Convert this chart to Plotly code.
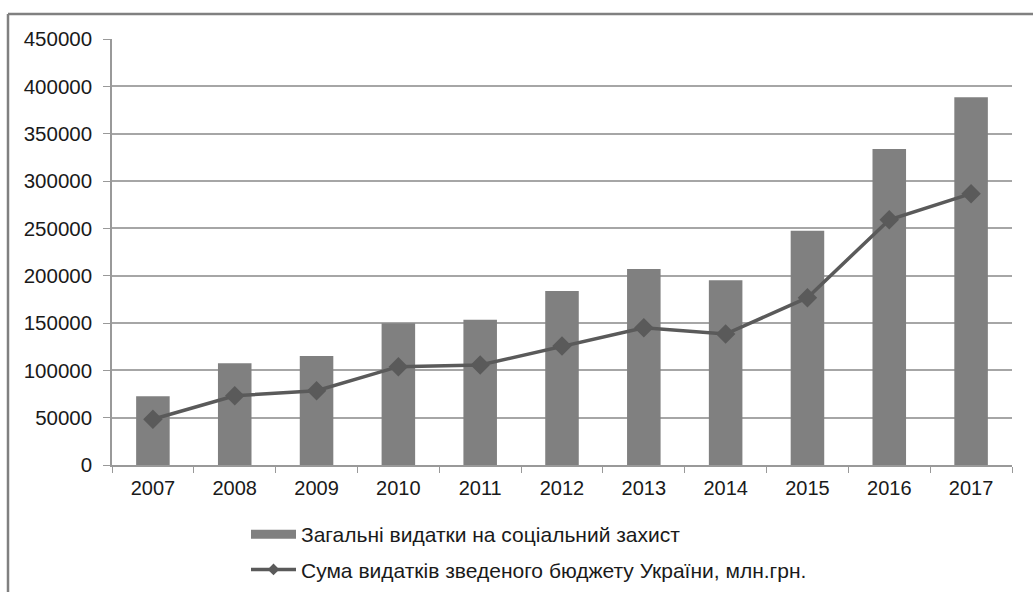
import plotly.graph_objects as go

years = ["2007", "2008", "2009", "2010", "2011", "2012", "2013", "2014", "2015", "2016", "2017"]
social = [72500, 107400, 115100, 149800, 153500, 183800, 207000, 195100, 247500, 333800, 388400]
budget = [48300, 73200, 78500, 103900, 105600, 125700, 145000, 138400, 176700, 259100, 286600]
yticks = [0, 50000, 100000, 150000, 200000, 250000, 300000, 350000, 400000, 450000]

name_bar = "Загальні видатки на соціальний захист"
name_line = "Сума видатків зведеного бюджету України, млн.грн."

BAR_C = "#808080"
LINE_C = "#5a5a5a"

fig = go.Figure()
fig.add_trace(go.Bar(x=years, y=social, name=name_bar, showlegend=False,
                     marker=dict(color=BAR_C, line=dict(width=0)), width=0.41))
fig.add_trace(go.Scatter(x=years, y=budget, name=name_line, mode="lines+markers", showlegend=False,
                         line=dict(color=LINE_C, width=3.5),
                         marker=dict(symbol="diamond", size=15, color=LINE_C)))
# legend entries (legend-only, styled like the original legend keys)
fig.add_trace(go.Scatter(x=[None], y=[None], name=name_bar, mode="lines", legendgroup="a",
                         line=dict(color=BAR_C, width=9)))
fig.add_trace(go.Scatter(x=[None], y=[None], name=name_line, mode="lines+markers", legendgroup="b",
                         line=dict(color=LINE_C, width=3.5),
                         marker=dict(symbol="diamond", size=9, color=LINE_C)))

W, H = 1033, 592
L, R, T, B = 112, 21, 39, 127
pw, ph = W - L - R, H - T - B

def px(x):
    return (x - L) / pw

def py(y):
    return (H - B - y) / ph

fig.update_layout(
    width=W, height=H,
    margin=dict(l=L, r=R, t=T, b=B, autoexpand=False),
    paper_bgcolor="white", plot_bgcolor="white",
    font=dict(family="Liberation Sans, Arial, sans-serif", size=20, color="#1a1a1a"),
    showlegend=True,
    legend=dict(x=px(246), y=py(514), xanchor="left", yanchor="top",
                font=dict(size=21), itemwidth=45, tracegroupgap=5,
                bgcolor="rgba(0,0,0,0)"),
    bargap=0.6,
    xaxis=dict(type="category", range=[-0.5, 10.5], tickson="boundaries", ticks="outside", ticklen=6,
               tickcolor="#999999", showline=True, linecolor="#999999", linewidth=1.5,
               showgrid=False, tickfont=dict(size=20), ticklabelstandoff=4),
    yaxis=dict(range=[0, 450000], tickvals=yticks, ticktext=[str(v) for v in yticks],
               ticks="outside", ticklen=7, tickcolor="#999999",
               showline=True, linecolor="#999999", linewidth=1.5,
               showgrid=True, gridcolor="#a6a6a6", gridwidth=1.5, zeroline=False,
               tickfont=dict(size=20.5), ticklabelstandoff=7),
    shapes=[
        dict(type="line", xref="paper", yref="paper", x0=px(8), x1=px(1040), y0=py(14), y1=py(14),
             line=dict(color="#808080", width=2.5)),
        dict(type="line", xref="paper", yref="paper", x0=px(8), x1=px(8), y0=py(14), y1=py(600),
             line=dict(color="#808080", width=2.5)),
    ],
)

fig.write_html("out.html", config={"displayModeBar": False},
               post_script="document.body.style.margin='0';document.body.style.overflow='hidden';")
